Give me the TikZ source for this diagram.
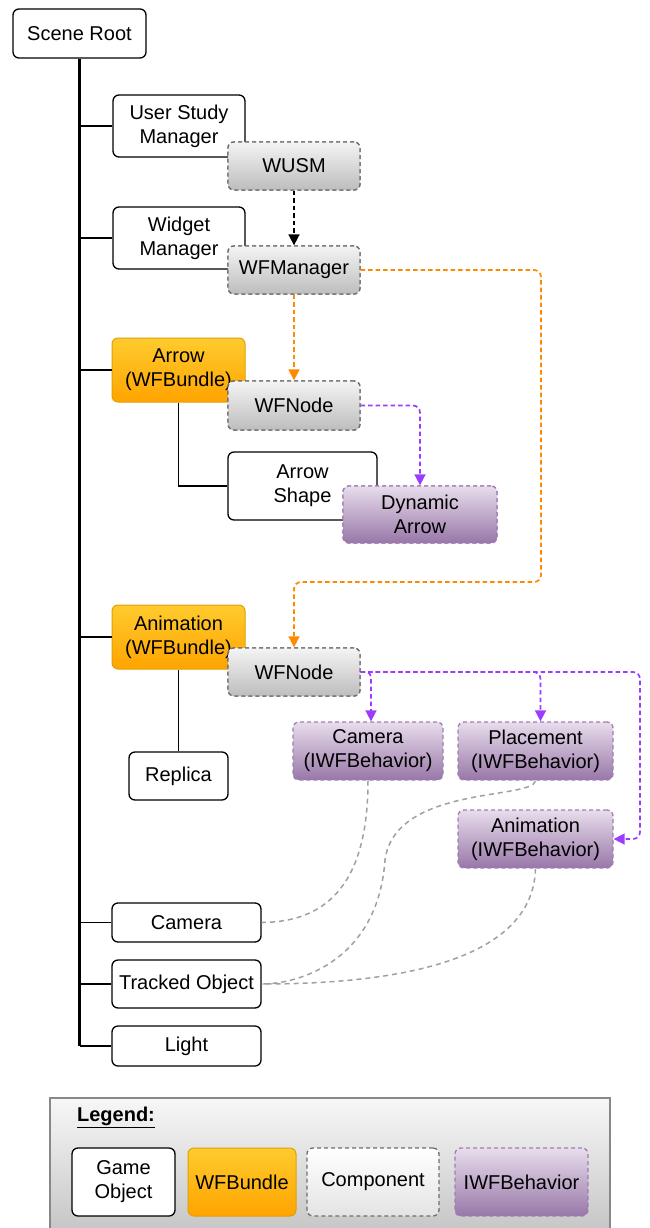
\documentclass[tikz,border=0pt]{standalone}
\usepackage{fontspec}
\setmainfont{Liberation Sans}
\usetikzlibrary{arrows.meta,calc}
\definecolor{bundTop}{HTML}{FFCB2E}
\definecolor{bundBot}{HTML}{FFA400}
\definecolor{bundLine}{HTML}{E0A000}
\definecolor{compTop}{HTML}{F4F4F4}
\definecolor{compBot}{HTML}{BDBDBD}
\definecolor{compLine}{HTML}{6E6E6E}
\definecolor{behTop}{HTML}{E8DDEC}
\definecolor{behBot}{HTML}{9877A8}
\definecolor{behLine}{HTML}{A27DB3}
\definecolor{orangeArr}{HTML}{FF8A00}
\definecolor{purpArr}{HTML}{9B3DFF}
\definecolor{grayLink}{HTML}{A0A0A0}
\definecolor{legTop}{HTML}{F7F7F7}
\definecolor{legBot}{HTML}{C4C4C4}
\definecolor{legLine}{HTML}{888888}
\tikzset{
  every node/.style={font=\fontsize{20}{24}\selectfont, align=center, inner sep=0pt},
  gobj/.style={draw=black, line width=1.3pt, rounded corners=6pt, fill=white},
  bund/.style={draw=bundLine, line width=1pt, rounded corners=6pt, top color=bundTop, bottom color=bundBot},
  comp/.style={draw=compLine, line width=1.3pt, dash pattern=on 4pt off 3pt, rounded corners=6pt, top color=compTop, bottom color=compBot},
  behav/.style={draw=behLine, line width=1.3pt, dash pattern=on 4pt off 3pt, rounded corners=6pt, top color=behTop, bottom color=behBot},
  tree/.style={line width=1.3pt, black},
  dep/.style={line width=1.7pt, dash pattern=on 4.5pt off 3pt, rounded corners=7pt, -{Triangle[length=11pt,width=11pt]}},
  glink/.style={grayLink, line width=1.5pt, dash pattern=on 5pt off 4pt},
}
\begin{document}
\begin{tikzpicture}[x=1pt,y=-1pt]
\useasboundingbox (0,0) rectangle (649,1228);

% legend background
\draw[draw=legLine, line width=1.5pt, top color=legTop, bottom color=legBot] (50,1098) rectangle (610,1236);

% root
\node[gobj, minimum width=133pt, minimum height=49pt] (root) at (79.5,33.5) {Scene Root};
\coordinate (trunkend) at (79.5,1046);
\draw[line width=2.6pt] (root.south) -- (trunkend);

% game objects
\node[gobj, minimum width=132pt, minimum height=62pt] (usm) at (179,126) {User Study\\Manager};
\node[comp, minimum width=132pt, minimum height=48pt] (wusm) at (294,166) {WUSM};
\node[gobj, minimum width=132pt, minimum height=62pt] (wm) at (179,238) {Widget\\Manager};
\node[comp, minimum width=132pt, minimum height=48pt] (wfm) at (294,270) {WFManager};

\node[bund, minimum width=133pt, minimum height=64pt] (arrowb) at (178.5,370) {Arrow\\(WFBundle)};
\node[comp, minimum width=132pt, minimum height=49pt] (wfn1) at (294,405.5) {WFNode};
\node[gobj, minimum width=149pt, minimum height=68pt] (ashape) at (302.5,486) {Arrow\\Shape};
\node[behav, minimum width=154pt, minimum height=57pt] (dyn) at (420,514.5) {Dynamic\\Arrow};

\node[bund, minimum width=133pt, minimum height=64pt] (animb) at (178.5,637) {Animation\\(WFBundle)};
\node[comp, minimum width=132pt, minimum height=48pt] (wfn2) at (294,672) {WFNode};
\node[gobj, minimum width=99pt, minimum height=48pt] (replica) at (178.5,776) {Replica};

\node[behav, minimum width=150pt, minimum height=58pt] (camb) at (368,751) {Camera\\(IWFBehavior)};
\node[behav, minimum width=155pt, minimum height=58pt] (plab) at (535.5,751) {Placement\\(IWFBehavior)};
\node[behav, minimum width=155pt, minimum height=58pt] (aniab) at (535.5,839) {Animation\\(IWFBehavior)};

\node[gobj, minimum width=149pt, minimum height=39pt] (cam) at (186.5,922.5) {Camera};
\node[gobj, minimum width=149pt, minimum height=48pt] (tobj) at (186.5,984) {Tracked Object};
\node[gobj, minimum width=149pt, minimum height=40pt] (light) at (186.5,1046) {Light};

% tree branches
\foreach \n in {usm,wm,arrowb,animb,cam,tobj,light}
  \draw[tree] (\n.west) -- (root.south |- \n.west);
\draw[tree] (arrowb.south) |- (ashape.west);
\draw[tree] (animb.south) -- (replica.north);

% redraw overlapping components on top of tree lines
\node[comp, minimum width=132pt, minimum height=48pt] at (294,166) {WUSM};
\node[comp, minimum width=132pt, minimum height=48pt] at (294,270) {WFManager};
\node[comp, minimum width=132pt, minimum height=49pt] at (294,405.5) {WFNode};
\node[behav, minimum width=154pt, minimum height=57pt] at (420,514.5) {Dynamic\\Arrow};
\node[comp, minimum width=132pt, minimum height=48pt] at (294,672) {WFNode};

% dependency arrows
\draw[dep, black] (wusm.south) -- (wfm.north);
\draw[dep, orangeArr] (wfm.south) -- (wfn1.north);
\coordinate (o1) at (541,270);
\coordinate (o2) at (541,582);
\coordinate (o3) at (294,582);
\draw[dep, orangeArr] (wfm.east) -- (o1) -- (o2) -- (o3) -- (wfn2.north);
\draw[dep, purpArr] (wfn1.east) -| (dyn.north);
\draw[dep, purpArr, rounded corners=5pt] (wfn2.east) -| ([xshift=3pt]camb.north);
\draw[dep, purpArr] (wfn2.east) -| ([xshift=5pt]plab.north);
\coordinate (p1) at (640,672);
\draw[dep, purpArr] (wfn2.east) -- (p1) |- (aniab.east);

% gray links
\draw[glink] (camb.south) .. controls (368,880) and (330,922) .. (cam.east);
\draw[glink] (plab.south) .. controls (533,800) and (395,785) .. (385,860)
  .. controls (378,960) and (300,984) .. (tobj.east);
\draw[glink] (aniab.south) .. controls (533,960) and (400,984) .. (tobj.east);

% legend
\node[font=\fontsize{20}{24}\selectfont\bfseries] (legt) at (116,1117) {\underline{Legend:}};
\node[gobj, minimum width=103pt, minimum height=68pt] (lg1) at (123.5,1182) {Game\\Object};
\node[bund, minimum width=108pt, minimum height=68pt] (lg2) at (242,1182) {WFBundle};
\node[comp, minimum width=132pt, minimum height=68pt, top color=white, bottom color=compTop!70!compBot] (lg3) at (373,1182) {Component};
\node[behav, minimum width=133pt, minimum height=68pt] (lg4) at (521.5,1182) {IWFBehavior};
\end{tikzpicture}
\end{document}
